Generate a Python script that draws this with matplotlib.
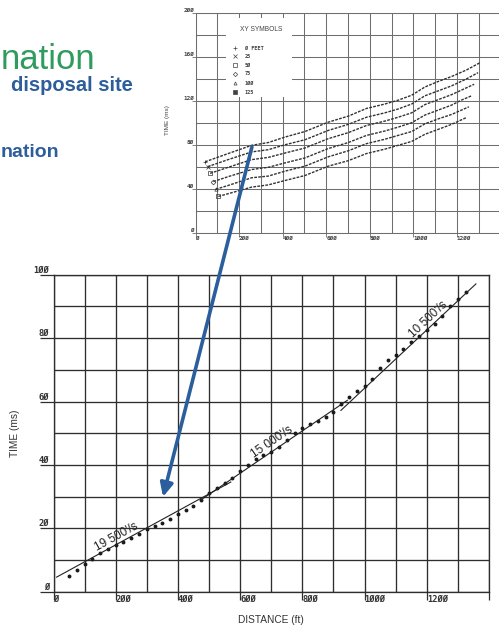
import numpy as np
import matplotlib
matplotlib.use("Agg")
import matplotlib.pyplot as plt
from matplotlib.patches import Rectangle, ConnectionPatch, ArrowStyle
from matplotlib.ticker import MultipleLocator, FuncFormatter

# ---- bottom panel: first-arrival picks (distance ft, time ms) ----
pick_dist = [50, 75, 100, 125, 150, 175, 200, 225, 250, 275, 300, 325, 350,
             375, 400, 425, 450, 475, 500, 525, 550, 575, 600, 625, 650, 675,
             700, 725, 750, 775, 800, 825, 850, 875, 900, 925, 950, 975, 1000,
             1025, 1050, 1075, 1100, 1125, 1150, 1175, 1200, 1225, 1250, 1275,
             1300, 1325]
pick_time = [4.8, 6.9, 8.8, 10.4, 12.2, 13.4, 14.8, 15.6, 16.9, 18.1, 19.8,
             20.7, 21.6, 22.8, 24.6, 25.8, 27.0, 28.8, 31.0, 32.6, 34.4, 36.0,
             38.0, 40.0, 41.8, 43.0, 44.2, 45.6, 47.8, 50.0, 51.5, 52.8, 54.0,
             55.2, 56.8, 59.2, 61.4, 63.3, 65.0, 67.2, 70.6, 73.0, 74.8, 76.6,
             78.8, 80.6, 82.4, 84.3, 87.0, 90.0, 92.2, 94.5]

# fitted velocity segments
seg_dist = [[10, 570], [473, 945], [924, 1358]]
seg_time = [[4.6, 34.6], [28.9, 60.4], [57.2, 97.1]]
seg_labels = ["19 500'/s", "15 000'/s", "10 500'/s"]

# ---- top panel: travel-time curves, one per offset ----
offset_labels = ["0 FEET", "25", "50", "75", "100", "125"]
curve_dist = [
    [44, 150, 258, 334, 411, 502, 609, 701, 785, 869, 930, 992, 1053, 1114, 1175, 1244, 1305],
    [56, 150, 258, 334, 411, 502, 609, 701, 785, 869, 930, 992, 1053, 1114, 1175, 1240, 1297],
    [67, 150, 258, 334, 411, 502, 609, 701, 785, 869, 930, 992, 1053, 1114, 1175, 1230, 1279],
    [82, 150, 258, 334, 411, 502, 609, 701, 785, 869, 930, 992, 1053, 1114, 1175, 1220, 1267],
    [93, 150, 258, 334, 411, 502, 609, 701, 785, 869, 930, 992, 1053, 1114, 1175, 1215, 1255],
    [105, 150, 258, 334, 411, 502, 609, 701, 785, 869, 930, 992, 1053, 1114, 1175, 1241],
]
curve_time = [
    [65, 72.5, 80, 82.5, 87.5, 92.5, 101, 106.5, 113.5, 117.5, 121, 125.5, 133, 138, 142.5, 148.5, 155],
    [60.6, 67, 74, 76, 80.5, 85, 93.5, 99, 105.5, 109.5, 113, 117.5, 125, 129.5, 134, 140, 146],
    [54.5, 60, 67, 69, 73, 77.5, 86, 91.5, 98, 102, 105.5, 109.5, 117, 121.5, 126, 131, 135.5],
    [47, 51.5, 58, 60, 64, 68.5, 77, 82.5, 89, 93, 96.5, 100.5, 107.5, 112, 116.5, 121, 125],
    [40, 43.5, 50.5, 52, 56.5, 61, 69.5, 75, 81.5, 85.5, 89, 92.5, 99.5, 104, 108, 111.5, 115],
    [33.5, 36, 42, 44, 48, 52.5, 61, 66, 72.5, 76.5, 80, 83.5, 90, 94.5, 99, 105],
]
curve_markers = ["+", "x", "s", "D", "^", "s"]

GREEN = "#2f9b5f"
BLUE_TEXT = "#2e5d9c"
BLUE_ARROW = "#2b5e9d"
MONO = "DejaVu Sans Mono"
SANS = "Liberation Sans"
W, H = 499, 630


def slashed(s):
    return s.replace("0", "\u00d8")


def tick_fmt(last):
    # plotter-style labels with slashed zeros; the closing tick stays blank
    return FuncFormatter(lambda v, pos: "" if v >= last else slashed(f"{v:g}"))


fig = plt.figure(figsize=(W / 100, H / 100), dpi=100)
fig.patch.set_facecolor("white")

# slide title fragments
fig.text(95 / W, 1 - 69 / H, "nation", ha="right", va="baseline",
         fontsize=25, family=SANS, color=GREEN)
fig.text(133 / W, 1 - 91 / H, "disposal site", ha="right", va="baseline",
         fontsize=14.5, family=SANS, weight="bold", color=BLUE_TEXT)
fig.text(1 / W, 1 - 157 / H, "nation", ha="left", va="baseline",
         fontsize=14, family=SANS, weight="bold", color=BLUE_TEXT)

# ---------------- top panel ----------------
ax_t = fig.add_axes([195.5 / W, 1 - 233.3 / H, 305 / W, 220 / H])
ax_t.set_xlim(0, 1400)
ax_t.set_ylim(0, 200)
ax_t.xaxis.set_major_locator(MultipleLocator(200))
ax_t.xaxis.set_minor_locator(MultipleLocator(100))
ax_t.yaxis.set_major_locator(MultipleLocator(40))
ax_t.yaxis.set_minor_locator(MultipleLocator(20))
ax_t.xaxis.set_major_formatter(tick_fmt(1400))
ax_t.yaxis.set_major_formatter(tick_fmt(1e9))
ax_t.set_axisbelow(True)
ax_t.grid(which="both", color="#6e6e6e", lw=0.75)
for sp in ax_t.spines.values():
    sp.set_color("#6e6e6e")
    sp.set_linewidth(0.75)
ax_t.tick_params(which="minor", length=0)
ax_t.tick_params(axis="x", which="major", length=3, width=0.6, color="#6e6e6e",
                 pad=-1.4, labelsize=4.3, labelcolor="#444")
ax_t.tick_params(axis="y", which="major", length=3, width=0.6, color="#6e6e6e",
                 pad=-2, labelsize=4.3, labelcolor="#444")
for lab in ax_t.get_xticklabels():
    lab.set_ha("left")
    lab.set_family(MONO)
    lab.set_weight("bold")
for lab in ax_t.get_yticklabels():
    lab.set_va("bottom")
    lab.set_family(MONO)
    lab.set_weight("bold")
ax_t.set_ylabel("TIME (ms)", fontsize=4.6, family=SANS, color="#444")
ax_t.yaxis.set_label_coords(-0.093, 0.513)
ax_t.yaxis.label.set_va("center")

# legend block, drawn on a white panel over the grid
ax_t.add_patch(Rectangle((140, 124), 303, 72, facecolor="white",
                         edgecolor="none", zorder=1))
ax_t.text(303, 185.7, "XY SYMBOLS", ha="center", va="center", fontsize=4.8,
          family=SANS, color="#444", zorder=4)
row_t = [168.4, 160.8, 152.6, 145.2, 136.6, 128.2]
for mk, lab, ty in zip(curve_markers, offset_labels, row_t):
    filled = lab == "125"
    ax_t.plot([181], [ty], marker=mk, ms=2.2, mew=0.5, color="#444",
              mfc="#444" if filled else "none", zorder=4)
    ax_t.text(227, ty, slashed(lab), ha="left", va="center", fontsize=3.8,
              family=MONO, weight="bold", color="#444", zorder=4)

for d, t, mk in zip(curve_dist, curve_time, curve_markers):
    ax_t.plot(d, t, color="#333", lw=1.0, ls=(0, (2.0, 0.9)), zorder=3)
    ax_t.plot(d[:1], t[:1], marker=mk, ms=2.4, mew=0.5, color="#333",
              mfc="none", zorder=3)

# ---------------- bottom panel ----------------
ax_b = fig.add_axes([53.5 / W, 1 - 591.7 / H, 435.5 / W, 317 / H])
ax_b.set_xlim(0, 1400)
ax_b.set_ylim(0, 100)
ax_b.xaxis.set_major_locator(MultipleLocator(200))
ax_b.xaxis.set_minor_locator(MultipleLocator(100))
ax_b.yaxis.set_major_locator(MultipleLocator(20))
ax_b.yaxis.set_minor_locator(MultipleLocator(10))
ax_b.xaxis.set_major_formatter(tick_fmt(1400))
ax_b.yaxis.set_major_formatter(tick_fmt(1e9))
ax_b.set_axisbelow(True)
ax_b.grid(which="both", color="#2e2e2e", lw=0.95)
for sp in ax_b.spines.values():
    sp.set_color("#2e2e2e")
    sp.set_linewidth(0.95)
ax_b.tick_params(which="minor", length=0)
ax_b.tick_params(axis="x", which="major", length=6, width=0.9, color="#2e2e2e",
                 pad=-4, labelsize=6.3, labelcolor="#333")
ax_b.tick_params(axis="y", which="major", length=10, width=0.9, color="#2e2e2e",
                 pad=-7, labelsize=6.3, labelcolor="#333")
for lab in ax_b.get_xticklabels():
    lab.set_ha("left")
    lab.set_family(MONO)
    lab.set_weight("bold")
for lab in ax_b.get_yticklabels():
    lab.set_va("bottom")
    lab.set_family(MONO)
    lab.set_weight("bold")

ax_b.set_xlabel("DISTANCE (ft)", fontsize=7.3, family=SANS, color="#333")
ax_b.xaxis.set_label_coords(0.5, -0.088)
ax_b.xaxis.label.set_va("center")
ax_b.set_ylabel("TIME (ms)", fontsize=7.3, family=SANS, color="#333")
ax_b.yaxis.set_label_coords(-0.088, 0.5)
ax_b.yaxis.label.set_va("center")

ax_b.plot(pick_dist, pick_time, "o", ms=1.8, color="#1a1a1a", zorder=3)

label_xy = [(203, 17.4), (702, 47.3), (1205, 85.9)]
for d, t, lab, (lx, ly) in zip(seg_dist, seg_time, seg_labels, label_xy):
    ax_b.plot(d, t, color="#222", lw=0.8, zorder=3)
    ang = np.degrees(np.arctan2(t[1] - t[0], d[1] - d[0]))
    ax_b.text(lx, ly, lab, rotation=ang, transform_rotates_text=True,
              rotation_mode="anchor", ha="center", va="center",
              fontsize=8.5, family=SANS, color="#222", zorder=4)

# pointer from the zero-offset curve down to the picks
arrow = ConnectionPatch(xyA=(259, 78.5), coordsA=ax_t.transData,
                        xyB=(352, 29.9), coordsB=ax_b.transData,
                        arrowstyle=ArrowStyle("-|>", head_length=8, head_width=3.8),
                        mutation_scale=1, lw=2.6, color=BLUE_ARROW,
                        shrinkA=0, shrinkB=0, zorder=10)
fig.add_artist(arrow)

fig.savefig("out.png", dpi=100, facecolor="white")
